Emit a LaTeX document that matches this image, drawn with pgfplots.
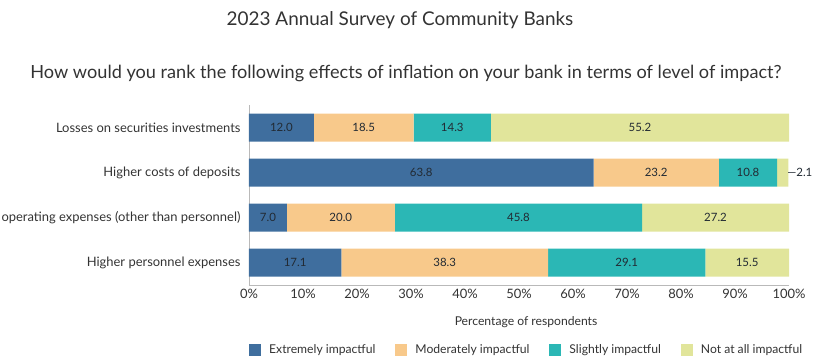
\documentclass[border=0pt]{standalone}
\usepackage{pgfplots}
\pgfplotsset{compat=1.18}
\usepackage{pgfplotstable}
\usepackage{fontspec}
\setmainfont{Lato}
\definecolor{cExt}{HTML}{3F6E9E}
\definecolor{cMod}{HTML}{F8C98B}
\definecolor{cSli}{HTML}{2BB7B5}
\definecolor{cNot}{HTML}{E1E59B}
\definecolor{txt}{HTML}{333333}
\definecolor{lbl}{HTML}{222a33}
\pgfplotstableread{
row ext mod sli not notlab
0 12.0 18.5 14.3 55.2 55.2
1 63.8 23.2 10.8 2.1 {---2.1}
2 7.0 20.0 45.8 27.2 27.2
3 17.1 38.3 29.1 15.5 15.5
}\data
% label positions derived from the data (segment midpoints)
\pgfplotstablecreatecol[expr={\thisrow{ext}/2}]{mext}{\data}
\pgfplotstablecreatecol[expr={\thisrow{ext}+\thisrow{mod}/2}]{mmod}{\data}
\pgfplotstablecreatecol[expr={\thisrow{ext}+\thisrow{mod}+\thisrow{sli}/2}]{msli}{\data}
\pgfplotstablecreatecol[expr={ifthenelse(\thisrow{not}<5, \thisrow{ext}+\thisrow{mod}+\thisrow{sli}+\thisrow{not}+2.1, \thisrow{ext}+\thisrow{mod}+\thisrow{sli}+\thisrow{not}/2)}]{mnot}{\data}
\begin{document}
\begin{tikzpicture}
\path[use as bounding box] (0,0) rectangle (815bp,-360bp);
\node[font=\fontsize{19}{22}\selectfont, text=txt] at (400bp,-20bp) {2023 Annual Survey of Community Banks};
\node[font=\fontsize{18.2}{21}\selectfont, text=txt] at (406bp,-73bp) {How would you rank the following effects of inflation on your bank in terms of level of impact?};
\begin{axis}[
  at={(249bp,-285bp)}, anchor=south west,
  width=540bp, height=180bp, scale only axis,
  xbar stacked, bar width=28bp,
  xmin=0, xmax=100, ymin=-0.5, ymax=3.5, y dir=reverse,
  enlargelimits=false,
  ytick={0,1,2,3},
  yticklabels={Losses on securities investments, Higher costs of deposits, Higher operating expenses (other than personnel), Higher personnel expenses},
  xtick={0,10,...,100},
  xticklabel={\pgfmathprintnumber{\tick}\%},
  /pgf/number format/assume math mode=true,
  axis x line*=bottom, axis y line*=left,
  axis line style={draw=gray!55, line width=0.8pt, -},
  major tick length=0pt,
  tick label style={font=\fontsize{13}{15}\selectfont, text=txt},
  xticklabel style={yshift=-1bp},
  yticklabel style={xshift=-5bp},
  xlabel={Percentage of respondents},
  xlabel style={at={(axis description cs:0.513,-0.2056)}, anchor=center, font=\fontsize{12.2}{14}\selectfont, text=txt},
  legend columns=4,
  legend style={at={(0,-0.361)}, anchor=west, draw=none, fill=none, inner sep=0pt,
    font=\fontsize{12.2}{14}\selectfont, text=txt,
    /tikz/every odd column/.append style={column sep=6bp},
    /tikz/every even column/.append style={column sep=18bp}},
  legend image code/.code={\fill[#1] (0bp,-6bp) rectangle (12bp,6bp);},
]
\addplot[fill=cExt, draw=none] table[x=ext, y=row] {\data};
\addlegendentry{Extremely impactful}
\addplot[fill=cMod, draw=none] table[x=mod, y=row] {\data};
\addlegendentry{Moderately impactful}
\addplot[fill=cSli, draw=none] table[x=sli, y=row] {\data};
\addlegendentry{Slightly impactful}
\addplot[fill=cNot, draw=none] table[x=not, y=row] {\data};
\addlegendentry{Not at all impactful}
\end{axis}
\begin{axis}[
  at={(249bp,-285bp)}, anchor=south west,
  width=540bp, height=180bp, scale only axis,
  xmin=0, xmax=100, ymin=-0.5, ymax=3.5, y dir=reverse,
  enlargelimits=false, hide axis, clip=false,
  /pgf/number format/assume math mode=true,
  nodes near coords,
  every node near coord/.append style={font=\fontsize{11.5}{13}\selectfont, text=lbl, anchor=center, inner sep=0pt},
]
\addplot[only marks, mark=none, point meta=explicit,
  nodes near coords={\pgfmathprintnumber[fixed,fixed zerofill,precision=1,assume math mode=true]{\pgfplotspointmeta}}]
  table[x=mext, y=row, meta=ext] {\data};
\addplot[only marks, mark=none, point meta=explicit,
  nodes near coords={\pgfmathprintnumber[fixed,fixed zerofill,precision=1,assume math mode=true]{\pgfplotspointmeta}}]
  table[x=mmod, y=row, meta=mod] {\data};
\addplot[only marks, mark=none, point meta=explicit,
  nodes near coords={\pgfmathprintnumber[fixed,fixed zerofill,precision=1,assume math mode=true]{\pgfplotspointmeta}}]
  table[x=msli, y=row, meta=sli] {\data};
\addplot[only marks, mark=none, point meta=explicit symbolic]
  table[x=mnot, y=row, meta=notlab] {\data};
\end{axis}
\end{tikzpicture}
\end{document}
